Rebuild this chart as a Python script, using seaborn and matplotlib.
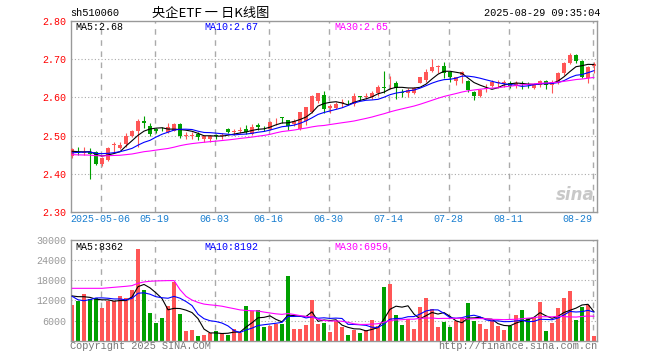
import matplotlib
matplotlib.use("Agg")
import matplotlib.pyplot as plt
import numpy as np
import pandas as pd
import seaborn as sns

# trading-day index of each date label
tick_idx = [5, 14, 24, 33, 43, 53, 63, 73, 87]
tick_labels = ["2025-05-06", "05-19", "06-03", "06-16", "06-30",
               "07-14", "07-28", "08-11", "08-29"]

opens = [2.445, 2.457, 2.455, 2.457, 2.456, 2.425, 2.437, 2.474, 2.467, 2.477,
         2.500, 2.512, 2.539, 2.526, 2.516, 2.518, 2.508, 2.512, 2.531, 2.500,
         2.500, 2.504, 2.491, 2.492, 2.501, 2.500, 2.517, 2.508, 2.513, 2.518,
         2.504, 2.528, 2.520, 2.518, 2.540, 2.548, 2.540, 2.531, 2.517, 2.537,
         2.563, 2.591, 2.607, 2.573, 2.573, 2.586, 2.588, 2.582, 2.603, 2.601,
         2.601, 2.613, 2.626, 2.642, 2.637, 2.614, 2.613, 2.613, 2.639, 2.645,
         2.669, 2.680, 2.682, 2.666, 2.643, 2.659, 2.644, 2.615, 2.605, 2.622,
         2.631, 2.637, 2.639, 2.639, 2.634, 2.637, 2.635, 2.624, 2.634, 2.644,
         2.632, 2.641, 2.663, 2.691, 2.712, 2.696, 2.650, 2.683]
highs = [2.466, 2.470, 2.469, 2.468, 2.460, 2.444, 2.469, 2.484, 2.484, 2.506,
         2.515, 2.543, 2.550, 2.532, 2.519, 2.522, 2.532, 2.534, 2.534, 2.508,
         2.508, 2.508, 2.502, 2.502, 2.504, 2.506, 2.519, 2.518, 2.522, 2.528,
         2.530, 2.532, 2.526, 2.538, 2.546, 2.549, 2.541, 2.543, 2.563, 2.576,
         2.607, 2.613, 2.618, 2.583, 2.587, 2.596, 2.593, 2.613, 2.604, 2.613,
         2.617, 2.632, 2.669, 2.657, 2.644, 2.622, 2.625, 2.628, 2.654, 2.676,
         2.700, 2.685, 2.692, 2.669, 2.654, 2.670, 2.647, 2.618, 2.621, 2.635,
         2.647, 2.647, 2.646, 2.644, 2.644, 2.644, 2.641, 2.637, 2.647, 2.647,
         2.647, 2.668, 2.694, 2.716, 2.714, 2.698, 2.683, 2.694]
lows = [2.442, 2.450, 2.449, 2.385, 2.422, 2.421, 2.434, 2.458, 2.464, 2.471,
        2.495, 2.471, 2.521, 2.500, 2.506, 2.511, 2.507, 2.511, 2.493, 2.491,
        2.491, 2.489, 2.484, 2.484, 2.490, 2.492, 2.506, 2.502, 2.506, 2.504,
        2.501, 2.515, 2.512, 2.515, 2.528, 2.533, 2.515, 2.524, 2.515, 2.528,
        2.559, 2.585, 2.559, 2.559, 2.569, 2.575, 2.580, 2.578, 2.593, 2.596,
        2.596, 2.604, 2.613, 2.621, 2.597, 2.602, 2.602, 2.608, 2.637, 2.641,
        2.667, 2.663, 2.652, 2.641, 2.632, 2.637, 2.615, 2.593, 2.600, 2.615,
        2.628, 2.624, 2.628, 2.624, 2.626, 2.622, 2.624, 2.622, 2.628, 2.621,
        2.612, 2.636, 2.660, 2.688, 2.691, 2.650, 2.639, 2.663]
closes = [2.464, 2.454, 2.458, 2.452, 2.425, 2.442, 2.468, 2.477, 2.476, 2.500,
          2.511, 2.539, 2.532, 2.504, 2.511, 2.516, 2.522, 2.531, 2.499, 2.502,
          2.502, 2.495, 2.499, 2.499, 2.498, 2.501, 2.508, 2.513, 2.514, 2.510,
          2.522, 2.523, 2.519, 2.536, 2.541, 2.546, 2.525, 2.537, 2.561, 2.574,
          2.604, 2.611, 2.570, 2.577, 2.582, 2.587, 2.587, 2.603, 2.602, 2.603,
          2.613, 2.627, 2.625, 2.644, 2.624, 2.613, 2.619, 2.624, 2.653, 2.666,
          2.681, 2.681, 2.663, 2.653, 2.653, 2.667, 2.619, 2.604, 2.619, 2.624,
          2.641, 2.641, 2.640, 2.631, 2.637, 2.635, 2.633, 2.634, 2.643, 2.634,
          2.641, 2.663, 2.691, 2.712, 2.697, 2.654, 2.681, 2.688]
volumes = [10700, 11900, 13900, 12500, 12800, 9800, 11900, 11900, 13400, 12800,
           15200, 27200, 15200, 8300, 5300, 6800, 10400, 17400, 8000, 2900,
           3200, 1400, 1800, 2300, 2900, 2300, 1800, 3500, 2300, 10400,
           8700, 9200, 4200, 4500, 5100, 5100, 19200, 3500, 3500, 4800,
           12000, 5100, 5400, 2700, 6000, 4000, 1800, 3200, 2400, 3200,
           6200, 4500, 15900, 17000, 7800, 4800, 6500, 3500, 9900, 12600,
           9500, 4200, 5700, 4200, 6000, 6700, 11100, 6000, 5100, 3600,
           6200, 4500, 3300, 4500, 7800, 9000, 6700, 6900, 11400, 3000,
           5400, 9600, 12600, 14700, 6200, 10100, 10600, 1500]

# sessions before the first candle, only needed for the moving averages
hist_closes = [2.47, 2.47, 2.46, 2.47, 2.46, 2.45, 2.46, 2.46, 2.45, 2.46,
               2.45, 2.44, 2.45, 2.44, 2.45, 2.46, 2.43, 2.38, 2.41, 2.43,
               2.44, 2.45, 2.45, 2.46, 2.45, 2.46, 2.46, 2.45, 2.46]
hist_volumes = [11900, 13900, 12500, 12800, 9800, 7400, 7400, 8900, 8300, 9200,
                6200, 3200, 2300, 2300, 5300, 8900, 17400, 89000, 62900, 36200,
                22400, 16800, 9000, 8000, 9500, 13000, 14000, 13500, 15500]

RED = "#ff5656"
GREEN = "#00a000"
GRID = "#aaaaaa"
FRAME = "#999999"
MA_COLORS = {5: "black", 10: "#0000ff", 30: "#ff00ff"}

sns.set_theme(style="white")
plt.rcParams["font.family"] = ["Liberation Mono", "Noto Sans CJK SC"]

W, H = 660, 360


def fig_box(x0, y0, x1, y1):
    return [x0 / W, 1 - y1 / H, (x1 - x0) / W, (y1 - y0) / H]


fig = plt.figure(figsize=(W / 100, H / 100), dpi=100)
ax_p = fig.add_axes(fig_box(70.7, 21.3, 597.3, 211.7))
ax_v = fig.add_axes(fig_box(70.7, 240.0, 597.3, 340.7))

n = len(closes)
idx = np.arange(n)
o = np.array(opens)
c = np.array(closes)
up = c >= o
colors = np.where(up, RED, GREEN)

price_all = pd.Series(hist_closes + closes)
vol_all = pd.Series(hist_volumes + volumes, dtype=float)
k = len(hist_closes)

# candles
ax_p.vlines(idx, lows, highs, colors=colors, linewidth=0.8, zorder=2)
body_low = np.minimum(o, c)
body_h = np.maximum(np.abs(c - o), 0.0018)
ax_p.bar(idx, body_h, bottom=body_low, width=0.8, color=colors, linewidth=0, zorder=3)

for w, col in MA_COLORS.items():
    ma = price_all.rolling(w).mean().to_numpy()[k:]
    sns.lineplot(x=idx, y=ma, color=col, linewidth=0.8, ax=ax_p, zorder=4)

# volume
vol_df = pd.DataFrame({"day": idx, "vol": volumes, "dir": np.where(up, "up", "down")})
sns.barplot(data=vol_df, x="day", y="vol", hue="dir", palette={"up": RED, "down": GREEN},
            native_scale=True, width=0.8, dodge=False, saturation=1, legend=False,
            linewidth=0, ax=ax_v, zorder=2)
for w, col in MA_COLORS.items():
    vma = vol_all.rolling(w).mean().to_numpy()[k:]
    sns.lineplot(x=idx, y=vma, color=col, linewidth=0.8, ax=ax_v, zorder=4)

grid_x = np.array(tick_idx) - 0.25
for ax in (ax_p, ax_v):
    ax.set_xlim(-0.22, 87.55)
    ax.set_xlabel("")
    ax.set_ylabel("")
    for s in ax.spines.values():
        s.set_color(FRAME)
        s.set_linewidth(1.0)
    for gx in grid_x:
        ax.axvline(gx, color=GRID, linewidth=1.0, linestyle=(0, (4, 4)), zorder=1)
    ax.tick_params(length=0, labelsize=7.2, pad=3)

ax_p.set_ylim(2.30, 2.80)
price_ticks = [2.30, 2.40, 2.50, 2.60, 2.70, 2.80]
ax_p.set_yticks(price_ticks)
ax_p.set_yticklabels([f"{t:.2f}" for t in price_ticks], color="#ff0000")
for t in price_ticks[1:-1]:
    ax_p.axhline(t, color=GRID, linewidth=0.8, linestyle=(0, (1, 2)), zorder=1)
ax_p.set_xticks(grid_x)
ax_p.set_xticklabels(tick_labels, color="#1a7fd0")
ax_p.get_xticklabels()[-1].set_horizontalalignment("right")
ax_p.tick_params(axis="x", pad=2)

vol_ticks = [6000, 12000, 18000, 24000, 30000]
ax_v.set_ylim(0, 30000)
ax_v.set_yticks(vol_ticks)
ax_v.set_yticklabels([str(t) for t in vol_ticks], color="#999999")
for t in vol_ticks[:-1]:
    ax_v.axhline(t, color=GRID, linewidth=0.8, linestyle=(0, (1, 2)), zorder=1)
ax_v.set_xticks([])


def put(x, y, s, **kw):
    kw.setdefault("fontsize", 7.2)
    kw.setdefault("va", "center")
    fig.text(x / W, 1 - y / H, s, **kw)


put(70, 13, "sh510060", color="black", fontsize=7.4)
put(152, 13, "央企ETF 一 日K线图", color="black", fontsize=9.5,
    family=["Noto Sans CJK SC", "DejaVu Sans"])
put(600, 13, "2025-08-29 09:35:04", color="black", ha="right", fontsize=7.4)

put(75, 26.5, "MA5:2.68", color="black")
put(204, 26.5, "MA10:2.67", color="#0000ff")
put(334, 26.5, "MA30:2.65", color="#ff00ff")

put(75, 246.5, "MA5:8362", color="black")
put(204, 246.5, "MA10:8192", color="#0000ff")
put(334, 246.5, "MA30:6959", color="#ff00ff")

put(70, 346, "Copyright 2025 SINA.COM", color="#777777", fontsize=7.4)
put(597, 346, "http://finance.sina.com.cn", color="#777777", ha="right", fontsize=7.4)

ax_p.text(0.995, 0.04, "sina", transform=ax_p.transAxes, ha="right", va="bottom",
          fontsize=12, fontweight="bold", style="italic", color="#bbbbbb",
          family="DejaVu Sans", alpha=0.8, zorder=0)

fig.savefig("out.png", dpi=100)
